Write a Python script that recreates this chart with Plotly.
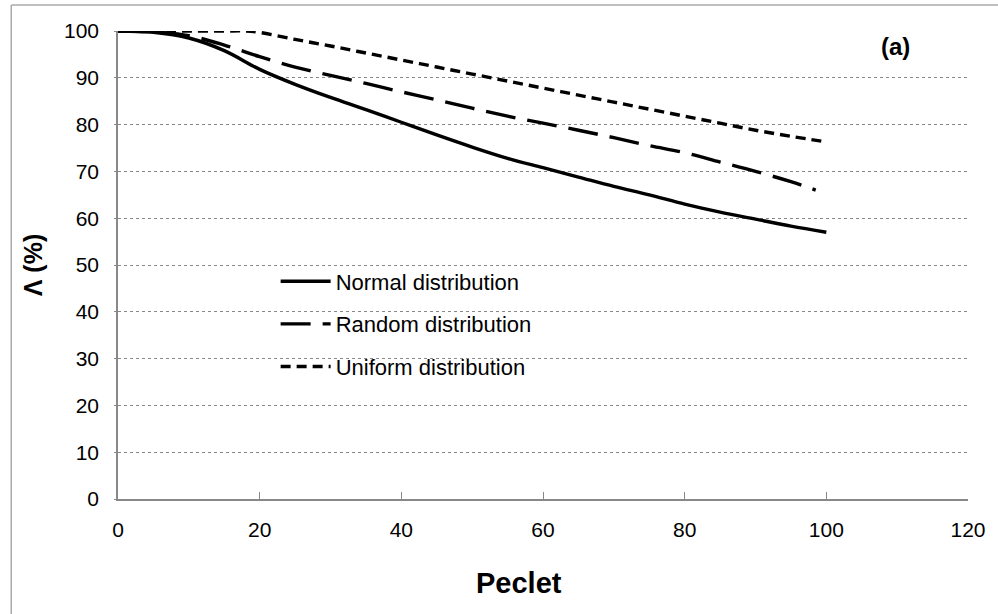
import plotly.graph_objects as go

# ---- data ----
peclet = [0, 5, 10, 15, 20, 25, 30, 35, 40, 45, 50, 55, 60, 65, 70, 75, 80, 85, 90, 95, 100]
normal = [100, 99.7, 98.5, 95.8, 91.8, 88.6, 85.8, 83.2, 80.5, 77.8, 75.2, 72.8, 70.8, 68.8,
          66.8, 65.0, 63.0, 61.3, 59.8, 58.3, 57.0]
peclet_random = [0, 5, 10, 15, 20, 25, 30, 35, 40, 45, 50, 55, 60, 65, 70, 75, 80, 85, 90, 95, 98.5]
random_d = [100, 99.8, 99.0, 97.0, 94.5, 92.3, 90.5, 88.8, 87.0, 85.3, 83.5, 81.8, 80.3, 78.8,
            77.2, 75.5, 74.0, 72.0, 70.0, 67.8, 66.0]
peclet_uniform = [0, 5, 10, 15, 18, 20, 25, 30, 35, 40, 45, 50, 55, 60, 65, 70, 75, 80, 85, 90, 95, 100]
uniform = [100, 100, 100, 100, 100, 99.7, 98.2, 96.8, 95.3, 93.8, 92.3, 90.8, 89.3, 87.8, 86.3,
           84.8, 83.3, 81.8, 80.3, 78.8, 77.5, 76.3]

series_names = ["Normal distribution", "Random distribution", "Uniform distribution"]
x_ticks = [0, 20, 40, 60, 80, 100, 120]
y_ticks = [0, 10, 20, 30, 40, 50, 60, 70, 80, 90, 100]

fig = go.Figure()
fig.add_trace(go.Scatter(x=peclet, y=normal, mode="lines", name=series_names[0],
                         line=dict(color="black", width=3.4, dash="solid", shape="spline"),
                         legendgroup="a"))
fig.add_trace(go.Scatter(x=peclet_random, y=random_d, mode="lines", name=series_names[1],
                         line=dict(color="black", width=3.4, dash="30px,12px", shape="spline"),
                         legendgroup="b"))
fig.add_trace(go.Scatter(x=peclet_uniform, y=uniform, mode="lines", name=series_names[2],
                         line=dict(color="black", width=3.4, dash="10px,6px", shape="spline"),
                         legendgroup="c"))

font_family = "Liberation Sans, Arial, sans-serif"

fig.update_layout(
    width=998, height=614,
    margin=dict(l=118, r=28, t=31, b=115),
    paper_bgcolor="white", plot_bgcolor="white",
    font=dict(family=font_family, color="black", size=21),
    showlegend=True,
    legend=dict(x=(276 - 118) / 852, y=(499 - 324) / 468, xanchor="left", yanchor="middle",
                bgcolor="rgba(0,0,0,0)", font=dict(size=22, family=font_family),
                traceorder="grouped", tracegroupgap=11, itemwidth=50),
    xaxis=dict(range=[0, 120], tickvals=x_ticks, ticks="inside", ticklen=7,
               tickcolor="#888888", showline=True, linecolor="#888888", linewidth=1.5,
               showgrid=False, zeroline=False, ticklabelstandoff=11,
               tickfont=dict(size=21)),
    yaxis=dict(range=[0, 100], tickvals=y_ticks, ticks="outside", ticklen=2,
               tickcolor="#888888", showline=True, linecolor="#888888", linewidth=1.5,
               showgrid=True, gridcolor="#888888", griddash="dot", gridwidth=1,
               zeroline=False, ticklabelstandoff=11, tickfont=dict(size=21),
               title=dict(text="<b>Λ (%)</b>", font=dict(size=25), standoff=14)),
    annotations=[
        dict(text="<b>(a)</b>", x=(897 - 118) / 852, y=(499 - 47) / 468, xref="paper", yref="paper",
             showarrow=False, font=dict(size=24, family=font_family),
             xanchor="center", yanchor="middle"),
        dict(text="<b>Peclet</b>", x=(520 - 118) / 852, y=(499 - 583) / 468, xref="paper", yref="paper",
             showarrow=False, font=dict(size=29, family=font_family),
             xanchor="center", yanchor="middle"),
    ],
    shapes=[
        dict(type="line", xref="paper", yref="paper",
             x0=(11 - 118) / 852, x1=(11 - 118) / 852, y0=(499 - 5) / 468, y1=-1,
             line=dict(color="#aaaaaa", width=1.5)),
        dict(type="line", xref="paper", yref="paper",
             x0=(11 - 118) / 852, x1=1.2, y0=(499 - 5) / 468, y1=(499 - 5) / 468,
             line=dict(color="#aaaaaa", width=1.5)),
    ],
)

fig.write_html("out.html")
